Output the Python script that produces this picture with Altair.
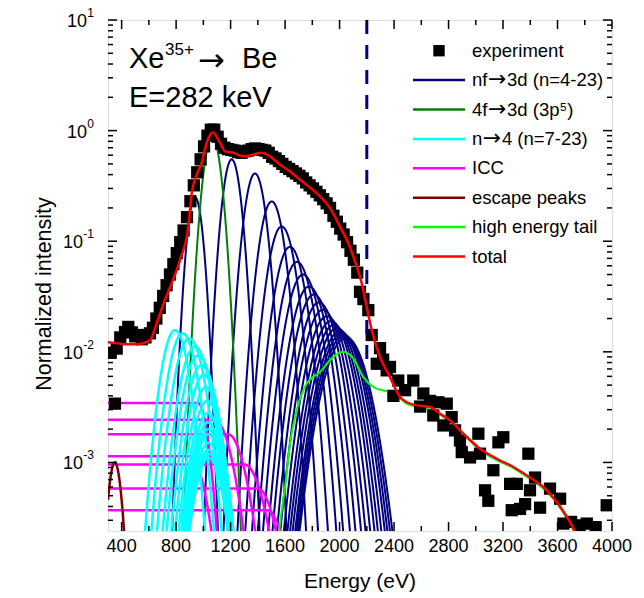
import numpy as np
import pandas as pd
import altair as alt

FONT = "Liberation Sans"
SYMF = "DejaVu Sans"

# ---------------- data ----------------
exp_E = [320, 351, 364, 390, 425, 449, 475, 500, 522, 548, 575, 608, 630, 655, 680, 705, 730, 755, 780,
         805, 830, 855, 880, 905, 930, 955, 980, 1005, 1030, 1055, 1080, 1105, 1130, 1155, 1180, 1205,
         1230, 1255, 1280, 1305, 1330, 1355, 1380, 1405, 1430, 1455, 1480, 1505, 1530, 1555, 1580, 1605,
         1630, 1655, 1680, 1705, 1730, 1755, 1780, 1805, 1830, 1855, 1880, 1905, 1930, 1955, 1980, 2005,
         2030, 2055, 2080, 2105, 2130, 2150, 2175, 2211, 2236, 2273, 2297, 2320, 2346, 2370, 2395, 2431,
         2481, 2541, 2591, 2615, 2664, 2688, 2725, 2762, 2787, 2823, 2848, 2884, 2897, 2958, 3019, 3031,
         3068, 3092, 3129, 3166, 3202, 3252, 3264, 3301, 3325, 3362, 3386, 3398, 3435, 3472, 3545, 3619,
         3643, 3700, 3760, 3815, 3880, 3961]
exp_v = [0.0098, 0.0034, 0.0107, 0.0135, 0.0151, 0.0168, 0.0150, 0.0138, 0.0142, 0.0130, 0.0135, 0.0147,
         0.0165, 0.0200, 0.0250, 0.032, 0.040, 0.050, 0.062, 0.078, 0.098, 0.125, 0.165, 0.23, 0.32, 0.42,
         0.55, 0.72, 0.90, 1.02, 1.02, 0.88, 0.76, 0.70, 0.68, 0.67, 0.66, 0.64, 0.63, 0.65, 0.66, 0.68,
         0.69, 0.68, 0.67, 0.66, 0.63, 0.58, 0.56, 0.53, 0.50, 0.47, 0.45, 0.43, 0.41, 0.39, 0.37, 0.34,
         0.32, 0.30, 0.28, 0.26, 0.24, 0.22, 0.20, 0.17, 0.15, 0.13, 0.115, 0.098, 0.082, 0.068, 0.052,
         0.0349, 0.030, 0.0238, 0.0142, 0.0078, 0.0108, 0.0085, 0.0068, 0.0073, 0.0040, 0.0055, 0.0045,
         0.0055, 0.0032, 0.0042, 0.0036, 0.00266, 0.0035, 0.00216, 0.0034, 0.00257, 0.00195, 0.00158,
         0.00124, 0.00111, 0.00182, 0.00120, 0.00056, 0.00045, 0.00085, 0.00152, 0.00169, 0.00064,
         0.00037, 0.00064, 0.00038, 0.00042, 0.00120, 0.00056, 0.00073, 0.00039, 0.00058, 0.00047,
         0.00028, 0.00029, 0.00027, 0.00028, 0.00026, 0.00041]

tot_E = [300, 350, 400, 450, 500, 550, 608, 658, 718, 768, 829, 890, 915, 951, 988, 1025, 1069, 1122,
         1159, 1218, 1291, 1365, 1428, 1489, 1563, 1636, 1710, 1770, 1832, 1930, 2003, 2064, 2126, 2163,
         2199, 2236, 2297, 2370, 2444, 2493, 2560, 2664, 2738, 2811, 2909, 3031, 3154, 3276, 3398, 3496,
         3569, 3631, 3705, 3740]
tot_v = [0.0122, 0.0120, 0.0118, 0.0117, 0.0117, 0.0119, 0.0127, 0.0182, 0.0294, 0.0419, 0.0677, 0.136,
         0.274, 0.399, 0.513, 0.778, 0.966, 0.778, 0.649, 0.632, 0.585, 0.606, 0.632, 0.585, 0.492, 0.428,
         0.360, 0.315, 0.272, 0.199, 0.136, 0.096, 0.059, 0.0416, 0.0255, 0.0157, 0.0090, 0.0059, 0.0039,
         0.0035, 0.0033, 0.00317, 0.00276, 0.0024, 0.00182, 0.00133, 0.00108, 0.00091, 0.00073, 0.00060,
         0.00048, 0.00038, 0.00027, 0.00022]

tail_E = [1540, 1563, 1600, 1636, 1685, 1759, 1857, 1954, 2028, 2101, 2175, 2248, 2370, 2444, 2493, 2560,
          2664, 2738, 2811, 2909, 3031, 3154, 3276, 3398, 3496, 3569, 3631, 3705, 3740]
tail_v = [0.00015, 0.00028, 0.00060, 0.00148, 0.00296, 0.00516, 0.00658, 0.0090, 0.0100, 0.0087, 0.0059,
          0.0048, 0.0043, 0.0038, 0.0034, 0.0032, 0.0030, 0.0027, 0.0023, 0.0018, 0.0013, 0.00105, 0.00089,
          0.00071, 0.00058, 0.00047, 0.00037, 0.00026, 0.00021]

# fitted components: peak position (eV), peak height, width (eV)
nf_center = [939, 1208, 1379, 1502, 1575, 1636, 1688, 1732, 1776, 1812, 1849, 1878, 1908, 1937, 1959,
             1981, 2003, 2018, 2033, 2047]
nf_height = [0.25, 0.55, 0.41, 0.229, 0.136, 0.089, 0.065, 0.050, 0.039, 0.033, 0.028, 0.024, 0.021,
             0.019, 0.0175, 0.0164, 0.0154, 0.0147, 0.0141, 0.0135]
nf_width = [45, 52, 60, 68, 75, 81, 86, 90, 94, 97, 100, 103, 106, 108, 110, 112, 114, 116, 118, 120]

f4_center, f4_height, f4_width = [1065], [0.88], [52]

n4_center = [792, 848, 897, 939, 963, 988, 1005, 1020, 1029, 1032, 1034, 1036, 1037, 1038, 1039, 1040, 1040]
n4_height = [0.0157, 0.0147, 0.0132, 0.0111, 0.0093, 0.0076, 0.0062, 0.0048, 0.0036, 0.0028, 0.0023,
             0.0020, 0.0018, 0.0015, 0.0013, 0.0012, 0.0011]
n4_width = [76, 80, 84, 86, 86, 85, 83, 82, 82, 82, 82, 82, 82, 82, 82, 82, 82]

icc_level = [0.00344, 0.00243, 0.0018, 0.00114, 0.00096, 0.00058, 0.00037]
icc_edge = [960, 1080, 1180, 900, 1300, 1400, 1470]
icc_width = [60, 100, 100, 90, 110, 100, 100]

esc_center, esc_height, esc_width = [350], [0.0010], [40]

series_limit = 2200

x_ticks = [400, 800, 1200, 1600, 2000, 2400, 2800, 3200, 3600, 4000]
x_minor = [600, 1000, 1400, 1800, 2200, 2600, 3000, 3400, 3800]
y_ticks = [1e-3, 1e-2, 1e-1, 1, 10]
y_exp = ["-3", "-2", "-1", "0", "1"]

# legend: (text before arrow, text after arrow) -- arrow drawn separately
legend_pre = ["experiment", "nf", "4f", "n", "ICC", "escape peaks", "high energy tail", "total"]
legend_post = ["", "3d (n=4-23)", "3d (3p\u2075)", "4 (n=7-23)", "", "", "", ""]
legend_colors = ["black", "#000080", "#008000", "#00FFFF", "#FF00FF", "#800000", "#00FF00", "#FF0000"]

# ---------------- build tables ----------------
grid = np.arange(300, 4001, 4.0)
FLOOR = 1.2e-4


def gauss_table(centers, heights, widths, tag):
    rows = []
    for i, (c, a, s) in enumerate(zip(centers, heights, widths)):
        v = a * np.exp(-(grid - c) ** 2 / (2 * s * s))
        m = v > FLOOR
        rows.append(pd.DataFrame({"E": grid[m], "v": v[m], "id": f"{tag}{i}"}))
    return pd.concat(rows, ignore_index=True)


def icc_table():
    rows = []
    for i, (L, e, s) in enumerate(zip(icc_level, icc_edge, icc_width)):
        v = np.where(grid <= e, L, L * np.exp(-(grid - e) ** 2 / (2 * s * s)))
        m = v > FLOOR
        rows.append(pd.DataFrame({"E": grid[m], "v": v[m], "id": f"icc{i}"}))
    return pd.concat(rows, ignore_index=True)


nf_df = gauss_table(nf_center, nf_height, nf_width, "nf")
f4_df = gauss_table(f4_center, f4_height, f4_width, "f4")
n4_df = gauss_table(n4_center, n4_height, n4_width, "n4")
esc_df = gauss_table(esc_center, esc_height, esc_width, "esc")
icc_df = icc_table()
exp_df = pd.DataFrame({"E": exp_E, "v": exp_v})
tot_df = pd.DataFrame({"E": tot_E, "v": tot_v})
tail_df = pd.DataFrame({"E": tail_E, "v": tail_v})

W, H = 504, 511
xs = alt.Scale(domain=[300, 4000], nice=False, zero=False)
ys = alt.Scale(type="log", domain=[2.4e-4, 10], nice=False)
X = alt.X("E:Q", scale=xs, axis=None)
Y = alt.Y("v:Q", scale=ys, axis=None)


def curves(df, color, width):
    return alt.Chart(df).mark_line(color=color, strokeWidth=width, clip=True).encode(x=X, y=Y, detail="id:N")


def txt(t, px, py, fs, font=FONT, align="left", baseline="alphabetic", angle=0):
    return alt.Chart(pd.DataFrame({"t": [t]})).mark_text(
        font=font, fontSize=fs, align=align, baseline=baseline, angle=angle, color="black").encode(
        x=alt.value(px), y=alt.value(py), text="t:N")


layers = []
layers.append(curves(nf_df, "#000080", 2))
layers.append(curves(f4_df, "#008000", 2))
layers.append(curves(icc_df, "#FF00FF", 2.5))
layers.append(curves(n4_df, "#00FFFF", 2.5))
layers.append(curves(esc_df, "#800000", 2.5))
layers.append(alt.Chart(tail_df).mark_line(color="#00FF00", strokeWidth=2, clip=True,
                                           interpolate="monotone").encode(x=X, y=Y))
layers.append(alt.Chart(exp_df).mark_square(size=150, color="black", opacity=1, clip=True).encode(x=X, y=Y))
layers.append(alt.Chart(pd.DataFrame({"E": [series_limit], "v": [10.0], "v2": [0.0076]})).mark_rule(
    color="#000080", strokeWidth=3, strokeDash=[14, 11]).encode(x=X, y=Y, y2="v2:Q"))
layers.append(alt.Chart(tot_df).mark_line(color="#FF0000", strokeWidth=2.5, clip=True,
                                          interpolate="monotone").encode(x=X, y=Y))

# inward ticks on all four sides
xmaj = pd.DataFrame({"E": x_ticks})
xmin = pd.DataFrame({"E": x_minor})
for d, L in [(xmaj, 9), (xmin, 5)]:
    for y0, y1 in [(H, H - L), (0, L)]:
        layers.append(alt.Chart(d).mark_rule(color="black", strokeWidth=1.5).encode(
            x=X, y=alt.value(y0), y2=alt.value(y1)))
ymin_vals = [m * 10.0 ** k for k in range(-4, 1) for m in range(2, 10) if 2.4e-4 <= m * 10.0 ** k <= 10]
ymaj = pd.DataFrame({"v": y_ticks})
ymin = pd.DataFrame({"v": ymin_vals})
for d, L in [(ymaj, 9), (ymin, 5)]:
    for x0, x1 in [(0, L), (W, W - L)]:
        layers.append(alt.Chart(d).mark_rule(color="black", strokeWidth=1.5).encode(
            y=Y, x=alt.value(x0), x2=alt.value(x1)))

# x tick labels
layers.append(alt.Chart(pd.DataFrame({"E": x_ticks, "lab": [str(t) for t in x_ticks]})).mark_text(
    font=FONT, fontSize=18, align="center", baseline="alphabetic", color="black").encode(
    x=X, y=alt.value(H + 21), text="lab:N"))

# y tick labels: "10" with superscript exponent
ylab = pd.DataFrame({"v": y_ticks, "e": y_exp, "neg": [s.startswith("-") for s in y_exp]})
for neg, base_x in [(True, -25), (False, -21)]:
    sub = ylab[ylab["neg"] == neg]
    layers.append(alt.Chart(sub).mark_text(font=FONT, fontSize=18, align="right", baseline="alphabetic",
                                           dy=7, color="black").encode(
        y=Y, x=alt.value(base_x), text=alt.value("10")))
layers.append(alt.Chart(ylab).mark_text(font=FONT, fontSize=12, align="right", baseline="alphabetic",
                                        dy=-3, color="black").encode(
    y=Y, x=alt.value(-14), text="e:N"))

# axis titles
layers.append(txt("Energy (eV)", W / 2, H + 57, 21, align="center"))
layers.append(txt("Normalized intensity", -63, 274, 21.5, align="center", baseline="middle", angle=270))

# annotation
layers.append(txt("Xe", 21, 48, 29))
layers.append(txt("35+", 57, 35, 17))
layers.append(txt("\u2192", 90, 51, 32, font=SYMF))
layers.append(txt("Be", 134, 48, 29))
layers.append(txt("E=282 keV", 21, 87, 29))

# legend
LX = 364
for i, (pre, post, col) in enumerate(zip(legend_pre, legend_post, legend_colors)):
    yy = 30.7 + 29.4 * i
    if i == 0:
        layers.append(alt.Chart(pd.DataFrame({"t": [pre]})).mark_square(size=130, color="black", opacity=1).encode(
            x=alt.value(331), y=alt.value(yy)))
    else:
        layers.append(alt.Chart(pd.DataFrame({"t": [pre]})).mark_rule(color=col, strokeWidth=2.5).encode(
            x=alt.value(305), x2=alt.value(357), y=alt.value(yy)))
    layers.append(txt(pre, LX, yy, 18.5, baseline="middle"))
    if post:
        pre_w = 18.5 * (0.834 if len(pre) == 2 else 0.556)
        layers.append(txt("\u2192", LX + pre_w + 9.8, yy + 6, 22, font=SYMF, align="center"))
        layers.append(txt(post, LX + pre_w + 19.6, yy, 18.5, baseline="middle"))

chart = alt.layer(*layers).properties(
    width=W, height=H,
    padding={"left": 108, "top": 20, "right": 32, "bottom": 67},
    autosize=alt.AutoSizeParams(type="none"),
).configure_view(stroke="black", strokeWidth=2).configure(font=FONT, background="white")

chart.save("out.html", embed_options={"renderer": "svg", "actions": False})
